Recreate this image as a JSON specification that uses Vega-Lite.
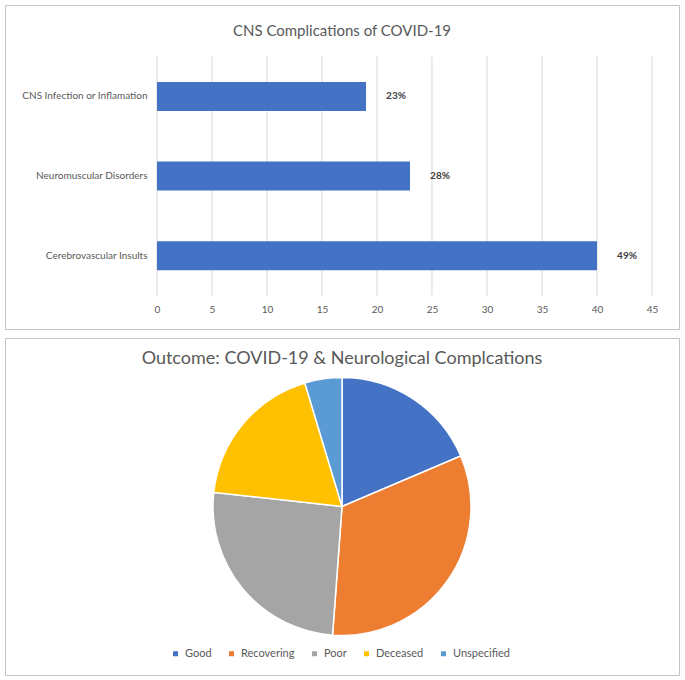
{
  "$schema": "https://vega.github.io/schema/vega-lite/v6.json",
  "background": "white",
  "padding": {"left": 4, "top": 4, "right": 0, "bottom": 0},
  "spacing": 7,
  "config": {
    "view": {"stroke": "#c4c4c4", "strokeWidth": 1},
    "font": "Lato"
  },
  "vconcat": [
    {
      "width": 674,
      "height": 324,
      "title": {"text": "CNS Complications of COVID-19", "font": "Lato", "fontSize": 15, "fontWeight": "normal", "color": "#595959", "anchor": "middle", "offset": -34},
      "data": {"values": [
        {"complication": "CNS Infection or Inflamation", "cases": 19, "share": "23%"},
        {"complication": "Neuromuscular Disorders", "cases": 23, "share": "28%"},
        {"complication": "Cerebrovascular Insults", "cases": 40, "share": "49%"}
      ]},
      "layer": [
        {
          "data": {"values": [{"tick": 0}, {"tick": 5}, {"tick": 10}, {"tick": 15}, {"tick": 20}, {"tick": 25}, {"tick": 30}, {"tick": 35}, {"tick": 40}, {"tick": 45}]},
          "mark": {"type": "rule", "color": "#d9d9d9", "strokeWidth": 1},
          "encoding": {
            "x": {"field": "tick", "type": "quantitative", "scale": {"domain": [-13.818, 47.455], "nice": false, "zero": false}},
            "y": {"datum": "CNS Infection or Inflamation", "type": "nominal", "bandPosition": -0.873, "scale": {"domain": ["CNS Infection or Inflamation", "Neuromuscular Disorders", "Cerebrovascular Insults"], "paddingInner": 0.636, "paddingOuter": 0.851, "align": 0.567}},
            "y2": {"datum": "Cerebrovascular Insults", "bandPosition": 1.873}
          }
        },
        {
          "mark": {"type": "bar", "color": "#4472C4"},
          "encoding": {
            "x": {"field": "cases", "type": "quantitative", "axis": {"values": [0, 5, 10, 15, 20, 25, 30, 35, 40, 45], "grid": false, "domain": false, "ticks": false, "tickSize": 0, "labelPadding": 2, "offset": -27, "title": null, "labelColor": "#595959", "labelFontSize": 10, "labelFont": "Lato"}},
            "y": {"field": "complication", "type": "nominal", "sort": null, "axis": {"grid": false, "domain": false, "ticks": false, "tickSize": 0, "labelPadding": 0, "offset": -142, "title": null, "labelColor": "#595959", "labelFontSize": 10, "labelFont": "Lato", "labelLimit": 300}}
          }
        },
        {
          "mark": {"type": "text", "align": "center", "dx": 30, "fontWeight": "bold", "fontSize": 10, "color": "#404040", "font": "Lato"},
          "encoding": {
            "x": {"field": "cases", "type": "quantitative"},
            "y": {"field": "complication", "type": "nominal", "sort": null},
            "text": {"field": "share", "type": "nominal"}
          }
        }
      ]
    },
    {
      "width": 674,
      "height": 337,
      "view": {"stroke": "#c4c4c4", "strokeWidth": 1},
      "title": {"text": "Outcome: COVID-19 & Neurological Complcations", "font": "Lato", "fontSize": 18, "fontWeight": "normal", "color": "#595959", "anchor": "middle", "offset": -30},
      "data": {"values": [
        {"outcome": "Good", "patients": 8},
        {"outcome": "Recovering", "patients": 14},
        {"outcome": "Poor", "patients": 11},
        {"outcome": "Deceased", "patients": 8},
        {"outcome": "Unspecified", "patients": 2}
      ]},
      "transform": [{"window": [{"op": "row_number", "as": "slice_order"}]}],
      "mark": {"type": "arc", "radius": 129, "stroke": "white", "strokeWidth": 1.5},
      "encoding": {
        "theta": {"field": "patients", "type": "quantitative", "stack": true},
        "order": {"field": "slice_order", "type": "quantitative", "sort": "ascending"},
        "color": {
          "field": "outcome", "type": "nominal",
          "sort": ["Good", "Recovering", "Poor", "Deceased", "Unspecified"],
          "scale": {"domain": ["Good", "Recovering", "Poor", "Deceased", "Unspecified"], "range": ["#4472C4", "#ED7D31", "#A5A5A5", "#FFC000", "#5B9BD5"]},
          "legend": {"orient": "none", "legendX": 165, "legendY": 643, "direction": "horizontal", "title": null, "symbolType": "square", "symbolSize": 25, "symbolStrokeWidth": 0, "labelFontSize": 11, "labelColor": "#595959", "labelFont": "Lato", "columnPadding": 14, "labelOffset": 4, "padding": 0}
        }
      }
    }
  ]
}
